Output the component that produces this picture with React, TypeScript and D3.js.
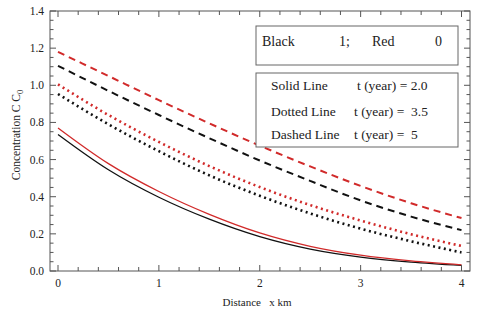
import React from 'react';
import * as d3 from 'd3';

// distance along x (km)
const distance = [0, 0.5, 1, 1.5, 2, 2.5, 3, 3.5, 4];

// C/C0 values
const blackSolid = [0.735, 0.545, 0.397, 0.279, 0.185, 0.118, 0.075, 0.048, 0.03];
const redSolid = [0.77, 0.578, 0.428, 0.305, 0.205, 0.133, 0.085, 0.054, 0.033];
const blackDotted = [0.953, 0.79, 0.645, 0.515, 0.405, 0.31, 0.228, 0.16, 0.1];
const redDotted = [1.005, 0.84, 0.695, 0.565, 0.452, 0.355, 0.272, 0.198, 0.135];
const blackDashed = [1.105, 0.97, 0.84, 0.715, 0.595, 0.485, 0.38, 0.293, 0.22];
const redDashed = [1.18, 1.05, 0.92, 0.795, 0.675, 0.563, 0.458, 0.365, 0.285];

const xTicks = [0, 1, 2, 3, 4];
const yTicks = [0, 0.2, 0.4, 0.6, 0.8, 1.0, 1.2, 1.4];

const BLACK = '#111';
const RED = '#d12a2a';
const FONT = 'Liberation Serif, DejaVu Serif, serif';

const App = () => {
  const width = 480;
  const height = 316;
  const frame = { left: 50, right: 470, top: 11, bottom: 271 };

  const x = d3.scaleLinear().domain([0, 4]).range([58, 461.5]);
  const y = d3.scaleLinear().domain([0, 1.4]).range([frame.bottom, frame.top]);

  const line = d3.line<number>()
    .x((_, i) => x(distance[i]))
    .y(d => y(d))
    .curve(d3.curveMonotoneX);

  const series = [
    { v: blackSolid, c: BLACK, w: 1.3, dash: null },
    { v: redSolid, c: RED, w: 1.3, dash: null },
    { v: blackDotted, c: BLACK, w: 2.6, dash: '2 3.5' },
    { v: redDotted, c: RED, w: 2.6, dash: '2 3.5' },
    { v: blackDashed, c: BLACK, w: 2, dash: '7 5' },
    { v: redDashed, c: RED, w: 2, dash: '7 5' },
  ];

  // minor ticks
  const xMinor = d3.range(0, 4.2001, 0.2).filter(v => x(v) < frame.right);
  const yMinor = d3.range(0, 1.40001, 0.05);

  const axisColor = '#555';
  const txt = { fontFamily: FONT, fill: '#222' } as React.CSSProperties;

  return (
    <svg width={width} height={height} style={{ position: 'absolute', left: 0, top: 0, background: '#fff' }}>
      <rect x={0} y={0} width={width} height={height} fill="#fff" />

      {/* curves */}
      {series.map((s, i) => (
        <path
          key={i}
          d={line(s.v) || ''}
          fill="none"
          stroke={s.c}
          strokeWidth={s.w}
          strokeDasharray={s.dash || undefined}
        />
      ))}

      {/* frame */}
      <rect
        x={frame.left}
        y={frame.top}
        width={frame.right - frame.left}
        height={frame.bottom - frame.top}
        fill="none"
        stroke={axisColor}
        strokeWidth={1}
      />

      {/* x ticks, pointing inward on bottom and top */}
      {xMinor.map((v, i) => {
        const major = Math.abs(v - Math.round(v)) < 1e-6;
        const len = major ? 6 : 4;
        const px = x(v);
        return (
          <g key={'xt' + i} stroke={axisColor} strokeWidth={1}>
            <line x1={px} x2={px} y1={frame.bottom} y2={frame.bottom - len} />
            <line x1={px} x2={px} y1={frame.top} y2={frame.top + len} />
          </g>
        );
      })}

      {/* y ticks, pointing inward on left and right */}
      {yMinor.map((v, i) => {
        const major = Math.abs(v * 5 - Math.round(v * 5)) < 1e-6;
        const len = major ? 6 : 3.5;
        const py = y(v);
        return (
          <g key={'yt' + i} stroke={axisColor} strokeWidth={1}>
            <line x1={frame.left} x2={frame.left + len} y1={py} y2={py} />
            <line x1={frame.right} x2={frame.right - len} y1={py} y2={py} />
          </g>
        );
      })}

      {/* tick labels */}
      {xTicks.map(v => (
        <text key={'xl' + v} x={x(v)} y={287} textAnchor="middle" style={txt} fontSize={11.5}>
          {v}
        </text>
      ))}
      {yTicks.map(v => (
        <text key={'yl' + v} x={44} y={y(v) + 4} textAnchor="end" style={txt} fontSize={11.5}>
          {v.toFixed(1)}
        </text>
      ))}

      {/* axis titles */}
      <text x={257} y={306} textAnchor="middle" style={txt} fontSize={11}>
        Distance{'\u00a0\u00a0\u00a0'}x km
      </text>
      <text transform="translate(20,135) rotate(-90)" textAnchor="middle" style={txt} fontSize={11.5}>
        Concentration C C<tspan fontSize={8.5} dy={3}>0</tspan>
      </text>

      {/* legend box 1 */}
      <rect x={256} y={26} width={202} height={39} fill="#fff" stroke="#666" strokeWidth={1} />
      <text x={262} y={46} style={txt} fontSize={14}>Black</text>
      <text x={339} y={46} style={txt} fontSize={14}>1;</text>
      <text x={372} y={46} style={txt} fontSize={14}>Red</text>
      <text x={435} y={46} style={txt} fontSize={14}>0</text>

      {/* legend box 2 */}
      <rect x={256} y={73} width={202} height={74} fill="#fff" stroke="#666" strokeWidth={1} />
      <text x={271} y={90} style={txt} fontSize={13.5}>Solid Line</text>
      <text x={357} y={90} style={txt} fontSize={13.5}>t (year) = 2.0</text>
      <text x={271} y={116} style={txt} fontSize={13.5}>Dotted Line</text>
      <text x={354} y={116} style={{ ...txt, whiteSpace: 'pre' }} fontSize={13.5}>t (year) =  3.5</text>
      <text x={271} y={139} style={txt} fontSize={13.5}>Dashed Line</text>
      <text x={354} y={139} style={{ ...txt, whiteSpace: 'pre' }} fontSize={13.5}>t (year) =  5</text>
    </svg>
  );
};

export default App;
